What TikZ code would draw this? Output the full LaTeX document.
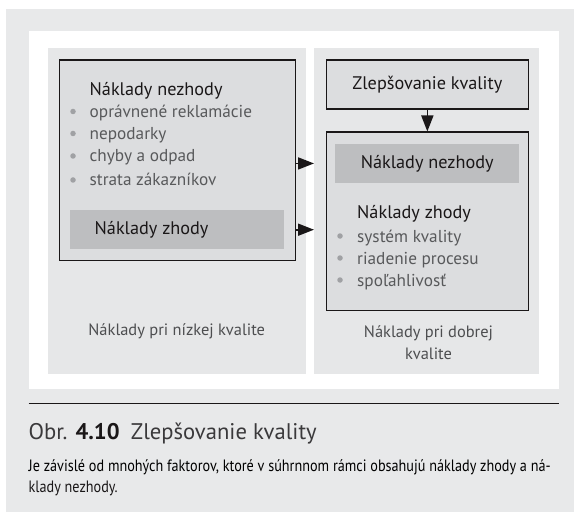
\documentclass[tikz,border=0pt]{standalone}
\usepackage{graphicx}
\usepackage{fontspec}
\setmainfont{PT Sans}
\usetikzlibrary{arrows.meta}
\definecolor{pagegray}{HTML}{E8E9EA}
\definecolor{colgray}{HTML}{E6E7E8}
\definecolor{boxgray}{HTML}{DCDDDF}
\definecolor{bandgray}{HTML}{BDBEC0}
\definecolor{ink}{HTML}{1A1718}
\definecolor{itemgray}{HTML}{58595B}
\definecolor{dotgray}{HTML}{A0A1A4}
\definecolor{labelgray}{HTML}{4D4E50}
\definecolor{capgray}{HTML}{3A393B}
\newsavebox\bodyline
\newcommand\bodyfont{\fontsize{16.5}{20}\selectfont}
% the body text is set condensed so that its first line fills the measure
\AtBeginDocument{%
  \sbox\bodyline{\bodyfont Je závislé od mnohých faktorov, ktoré v súhrnnom rámci obsahujú náklady zhody a ná-}%
  \pgfmathsetmacro\bodyscale{523.97/(\the\wd\bodyline)}%
  \global\let\bodyscale\bodyscale}
\begin{document}
\begin{tikzpicture}[x=1bp,y=-1bp,
  area/.style={fill=colgray, draw=none, inner sep=0, anchor=north west},
  framebox/.style={fill=boxgray, draw=ink, line width=1.2bp, inner sep=0, anchor=north west},
  band/.style={fill=bandgray, draw=none, inner sep=0, anchor=north west},
  head/.style={font=\fontsize{18.3}{20}\selectfont, text=ink, inner sep=0, anchor=base west},
  item/.style={font=\fontsize{17.3}{20}\selectfont, text=itemgray, inner sep=0, anchor=base west},
  label/.style={font=\fontsize{16.5}{22}\selectfont, text=labelgray, inner sep=0, align=center},
  dot/.style={circle, fill=dotgray, inner sep=0, minimum size=5.5bp},
  flow/.style={line width=1.7bp, draw=ink, -{Triangle[length=16bp,width=12bp]}},
  captext/.style={text=ink, inner sep=0, anchor=base west}]
\useasboundingbox (0,0) rectangle (574,513);
% page background and white panel
\fill[pagegray] (5.5,9) rectangle (574,512);
\fill[white] (28.5,31.5) rectangle (558.5,388.5);
% two columns
\node[area, minimum width=258.5bp, minimum height=326.5bp] (leftcol) at (47.5,47.5) {};
\node[area, minimum width=225bp, minimum height=326.5bp] (rightcol) at (314,47.5) {};
% left column: costs at low quality
\node[framebox, minimum width=236.5bp, minimum height=200bp] (leftbox) at (58.5,59.5) {};
\node[head] (lnez) at (89.5,96) {Náklady nezhody};
\node[dot] (ld1) at (73,111.5) {};
\node[item] (li1) at (89.5,117.5) {oprávnené reklamácie};
\node[dot] (ld2) at (73,133.5) {};
\node[item] (li2) at (89.5,139.5) {nepodarky};
\node[dot] (ld3) at (73,156) {};
\node[item] (li3) at (89.5,162) {chyby a odpad};
\node[dot] (ld4) at (73,180) {};
\node[item] (li4) at (89.5,186) {strata zákazníkov};
\node[band, minimum width=214.5bp, minimum height=39bp] (leftband) at (69.5,210) {};
\node[head] (lzh) at (94.5,234) {Náklady zhody};
\node[label] (lowq) at (176.7,331) {Náklady pri nízkej kvalite};
% right column: costs at good quality
\node[framebox, minimum width=202.5bp, minimum height=49bp] (zlep) at (325.5,59.5) {};
\node[head, anchor=center] (zlept) at (zlep.center) {Zlepšovanie kvality};
\node[framebox, minimum width=202.5bp, minimum height=178bp] (rightbox) at (325.5,131.5) {};
\node[band, minimum width=184bp, minimum height=38.5bp] (rightband) at (335,144) {};
\node[head, anchor=center] (rnez) at (rightband.center) {Náklady nezhody};
\node[head] (rzh) at (357,219) {Náklady zhody};
\node[dot] (rd1) at (340,236) {};
\node[item] (ri1) at (357,242) {systém kvality};
\node[dot] (rd2) at (340,258) {};
\node[item] (ri2) at (357,264) {riadenie procesu};
\node[dot] (rd3) at (340,280) {};
\node[item] (ri3) at (357,286) {spoľahlivosť};
\node[label] (goodq) at (428.5,342.5) {Náklady pri dobrej\\kvalite};
% connectors
\draw[flow] (leftbox.east |- rightband.west) -- (rightcol.west |- rightband.west);
\draw[flow] (leftbox.east |- leftband.east) -- (rightcol.west |- leftband.east);
\draw[flow] (zlep.south) -- (rightbox.north);
% caption
\coordinate (rl) at (28.5,403.5);
\coordinate (rr) at (558.5,403.5);
\draw[ink, line width=1.4bp] (rl) -- (rr);
\node[inner sep=0, anchor=base west, font=\fontsize{22.7}{24}\selectfont, text=capgray] (cap) at (28.5,439)
  {Obr. {\bfseries\color{ink}4.10}\hspace{0.5em}Zlepšovanie kvality};
\node[captext] (body1) at (28.5,471.5) {\scalebox{\bodyscale}[1]{\usebox\bodyline}};
\node[captext] (body2) at (28.5,492.5) {\scalebox{\bodyscale}[1]{\bodyfont klady nezhody.}};
\end{tikzpicture}
\end{document}
